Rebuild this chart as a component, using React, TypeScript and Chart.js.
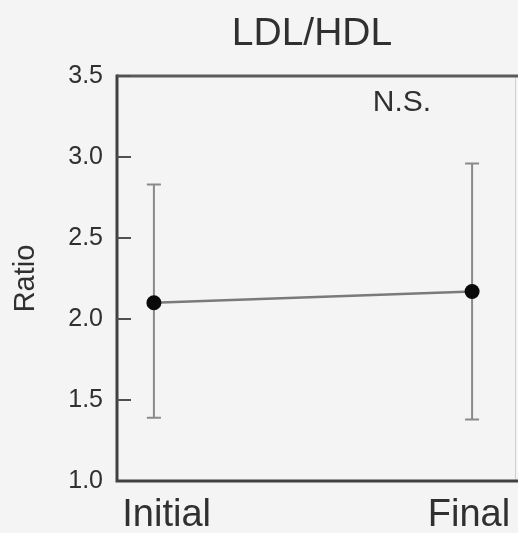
import React, { useEffect, useRef } from "react";
import { Chart, registerables } from "chart.js";

Chart.register(...registerables);

const categories = ["Initial", "Final"];
const labelPositions = [0.04, 0.99];
const means = [2.1, 2.17];
const upper = [2.83, 2.96];
const lower = [1.39, 1.38];
const yTicks = [1.0, 1.5, 2.0, 2.5, 3.0, 3.5];
const titleText = "LDL/HDL";
const yTitle = "Ratio";
const annotation = "N.S.";

const FONT = "'Liberation Sans', Arial, Helvetica, sans-serif";
const TEXT = "#303030";

const decor = {
  id: "decor",
  beforeDraw(chart: any) {
    const { ctx, width, height } = chart;
    ctx.save();
    ctx.fillStyle = "#f4f4f4";
    ctx.fillRect(0, 0, width, height);
    ctx.restore();
  },
  beforeDatasetsDraw(chart: any) {
    const { ctx, chartArea } = chart;
    const xs = chart.scales.x;
    const ys = chart.scales.y;
    ctx.save();
    ctx.strokeStyle = "#d0d0d0";
    ctx.lineWidth = 1;
    ctx.beginPath();
    ctx.moveTo(chartArea.right - 0.5, chartArea.top);
    ctx.lineTo(chartArea.right - 0.5, chartArea.bottom);
    ctx.stroke();
    ctx.strokeStyle = "#5a5a5a";
    ctx.lineWidth = 3;
    ctx.beginPath();
    ctx.moveTo(chartArea.left, chartArea.top);
    ctx.lineTo(chartArea.right + 4, chartArea.top);
    ctx.stroke();
    ctx.strokeStyle = "#404040";
    ctx.beginPath();
    ctx.moveTo(chartArea.left, chartArea.top - 1.5);
    ctx.lineTo(chartArea.left, chartArea.bottom);
    ctx.lineTo(chartArea.right + 4, chartArea.bottom);
    ctx.stroke();
    ctx.lineWidth = 2;
    ctx.strokeStyle = "#505050";
    yTicks.forEach((v) => {
      if (v === yTicks[0]) return;
      const y = ys.getPixelForValue(v);
      ctx.beginPath();
      ctx.moveTo(chartArea.left, y);
      ctx.lineTo(chartArea.left + 14, y);
      ctx.stroke();
    });
    ctx.strokeStyle = "#8a8a8a";
    ctx.lineWidth = 2;
    means.forEach((_, i) => {
      const x = xs.getPixelForValue(i);
      const yHi = ys.getPixelForValue(upper[i]);
      const yLo = ys.getPixelForValue(lower[i]);
      ctx.beginPath();
      ctx.moveTo(x, yHi);
      ctx.lineTo(x, yLo);
      ctx.moveTo(x - 7, yHi);
      ctx.lineTo(x + 7, yHi);
      ctx.moveTo(x - 7, yLo);
      ctx.lineTo(x + 7, yLo);
      ctx.stroke();
    });
    ctx.restore();
  },
  afterDraw(chart: any) {
    const { ctx } = chart;
    ctx.save();
    ctx.fillStyle = TEXT;
    ctx.textAlign = "center";
    ctx.textBaseline = "alphabetic";
    ctx.font = `39px ${FONT}`;
    ctx.fillText(titleText, 312, 45);
    ctx.font = `30px ${FONT}`;
    ctx.fillText(annotation, 402, 111);
    ctx.restore();
  },
};

export default function App() {
  const ref = useRef<HTMLCanvasElement | null>(null);
  useEffect(() => {
    document.body.style.margin = "0";
    document.body.style.background = "#f4f4f4";
    const chart = new Chart(ref.current as HTMLCanvasElement, {
      type: "scatter",
      data: {
        datasets: [
          {
            data: means.map((v, i) => ({ x: i, y: v })),
            showLine: true,
            borderColor: "#7a7a7a",
            borderWidth: 2.5,
            pointBackgroundColor: "#0a0a0a",
            pointBorderColor: "#0a0a0a",
            pointRadius: 7.5,
            pointBorderWidth: 0,
          },
        ],
      },
      options: {
        animation: false,
        responsive: false,
        layout: { autoPadding: false, padding: { top: 76, right: 2, left: 0, bottom: 0 } },
        plugins: {
          legend: { display: false },
          tooltip: { enabled: false },
          title: { display: false },
        },
        scales: {
          x: {
            type: "linear",
            min: -0.116,
            max: 1.138,
            border: { display: false },
            grid: { display: false, drawTicks: false },
            afterBuildTicks: (s: any) => {
              s.ticks = labelPositions.map((p) => ({ value: p }));
            },
            afterFit: (s: any) => {
              s.height = 52;
              s.paddingLeft = 0;
              s.paddingRight = 0;
            },
            ticks: {
              autoSkip: false,
              maxRotation: 0,
              padding: 12,
              color: TEXT,
              font: { family: FONT, size: 38 },
              callback: (v: any) => {
                const idx = labelPositions.indexOf(Number(v));
                return idx >= 0 ? categories[idx] : "";
              },
            },
          },
          y: {
            min: 1,
            max: 3.5,
            border: { display: false },
            grid: { display: false, drawTicks: false },
            afterBuildTicks: (s: any) => {
              s.ticks = yTicks.map((v) => ({ value: v }));
            },
            afterFit: (s: any) => {
              s.width = 117;
            },
            ticks: {
              padding: 14,
              color: TEXT,
              font: { family: FONT, size: 25 },
              callback: (v: any) => Number(v).toFixed(1),
            },
            title: {
              display: true,
              text: yTitle,
              color: TEXT,
              font: { family: FONT, size: 29 },
              padding: { top: 9, bottom: 0 },
            },
          },
        },
      },
      plugins: [decor],
    } as any);
    return () => chart.destroy();
  }, []);
  return (
    <div style={{ width: 518, height: 533 }}>
      <canvas ref={ref} width={518} height={533} style={{ display: "block" }} />
    </div>
  );
}
